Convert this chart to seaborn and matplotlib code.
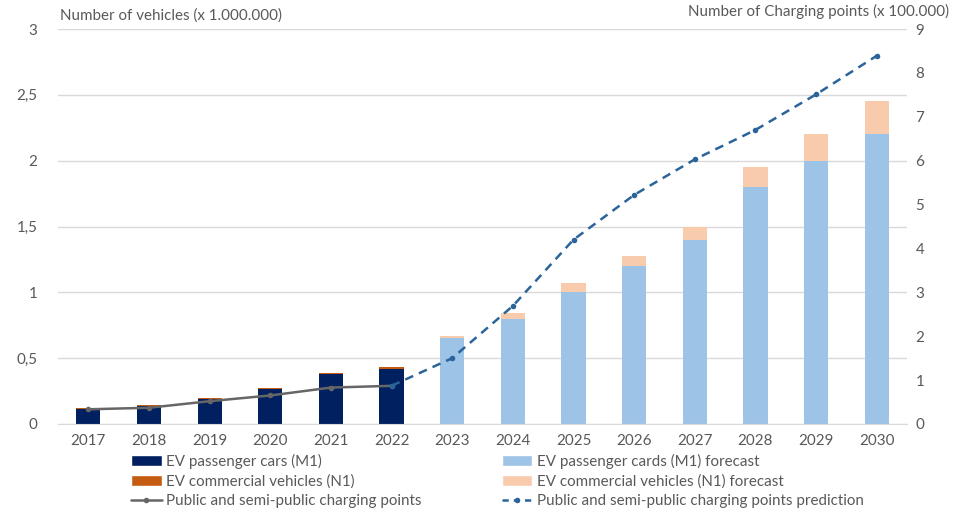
import numpy as np
import pandas as pd
import matplotlib
matplotlib.use("Agg")
import matplotlib.pyplot as plt
import seaborn as sns
from matplotlib.patches import Patch
from matplotlib.lines import Line2D
from matplotlib.ticker import FuncFormatter

# data
years = [str(y) for y in range(2017, 2031)]
m1_cars = [0.115, 0.14, 0.19, 0.265, 0.378, 0.415, 0.65, 0.8, 1.0, 1.2, 1.4, 1.8, 2.0, 2.2]
n1_commercial = [0.01, 0.007, 0.01, 0.01, 0.009, 0.015, 0.02, 0.04, 0.07, 0.075, 0.1, 0.15, 0.2, 0.25]
period = ["actual"] * 6 + ["forecast"] * 8

charging_years = years[:6]
charging_points = [0.335, 0.37, 0.52, 0.65, 0.83, 0.87]
prediction_years = years[5:]
charging_prediction = [0.87, 1.5, 2.69, 4.2, 5.22, 6.03, 6.7, 7.51, 8.39]

df = pd.DataFrame({"year": years, "m1": m1_cars, "n1": n1_commercial, "period": period})
df["total"] = df["m1"] + df["n1"]

navy = "#002060"
orange = "#C55A11"
lightblue = "#9DC3E6"
peach = "#F8CBAD"
gray = "#666666"
dashblue = "#2B6499"
textcol = "#595959"
fs = 10.9

sns.set_style("white")
plt.rcParams["font.family"] = ["Lato", "DejaVu Sans"]

fig = plt.figure(figsize=(9.67, 5.09), dpi=100)
ax = fig.add_axes([0.060, 0.167, 0.878, 0.776])

# stacked bars: total (N1 on top) first, then M1 over it
sns.barplot(data=df, x="year", y="total", hue="period", order=years,
            palette={"actual": orange, "forecast": peach}, dodge=False, saturation=1,
            width=0.4, linewidth=0, legend=False, ax=ax)
sns.barplot(data=df, x="year", y="m1", hue="period", order=years,
            palette={"actual": navy, "forecast": lightblue}, dodge=False, saturation=1,
            width=0.4, linewidth=0, legend=False, ax=ax)

ax.set_xlim(-0.5, len(years) - 0.5)
ax.set_ylim(0, 3)
ax.set_yticks(np.arange(0, 3.01, 0.5))
ax.yaxis.set_major_formatter(FuncFormatter(lambda v, p: f"{v:g}".replace(".", ",")))
ax.grid(axis="y", color="#D9D9D9", linewidth=1)
ax.set_axisbelow(True)
for s in ["top", "right", "left"]:
    ax.spines[s].set_visible(False)
ax.spines["bottom"].set_color("#D9D9D9")
ax.set_xlabel("")
ax.set_ylabel("")
ax.tick_params(axis="both", length=0, labelsize=fs, colors=textcol, pad=7)
ax.tick_params(axis="y", pad=15)

# charging points on secondary axis
ax2 = ax.twinx()
x_act = [years.index(y) for y in charging_years]
x_pred = [years.index(y) for y in prediction_years]
sns.lineplot(x=x_act, y=charging_points, ax=ax2, color=gray, linewidth=1.8,
             marker="o", markersize=4, markeredgewidth=0)
sns.lineplot(x=x_pred, y=charging_prediction, ax=ax2, color=dashblue, linewidth=1.8,
             linestyle=(0, (3.5, 2.5)), marker="o", markersize=4, markeredgewidth=0)
ax2.set_ylim(0, 9)
ax2.set_yticks(range(0, 10))
for s in ["top", "right", "left", "bottom"]:
    ax2.spines[s].set_visible(False)
ax2.tick_params(axis="y", length=0, labelsize=fs, colors=textcol, pad=6)
ax2.set_xlim(-0.5, len(years) - 0.5)

fig.text(0.062, 0.955, "Number of vehicles (x 1.000.000)", fontsize=fs, color=textcol,
         ha="left", va="bottom")
fig.text(0.981, 0.962, "Number of Charging points (x 100.000)", fontsize=fs, color=textcol,
         ha="right", va="bottom")

handles = [
    Patch(facecolor=navy, label="EV passenger cars (M1)"),
    Patch(facecolor=orange, label="EV commercial vehicles (N1)"),
    Line2D([0], [0], color=gray, lw=1.8, marker="o", markersize=3, label="Public and semi-public charging points"),
    Patch(facecolor=lightblue, label="EV passenger cards (M1) forecast"),
    Patch(facecolor=peach, label="EV commercial vehicles (N1) forecast"),
    Line2D([0], [0], color=dashblue, lw=1.8, linestyle=(0, (2.5, 2)), marker="o", markersize=3,
           label="Public and semi-public charging points prediction"),
]
leg = fig.legend(handles=handles, ncol=2, loc="upper left", bbox_to_anchor=(0.128, 0.123),
                 frameon=False, fontsize=fs, handlelength=2.0, handleheight=0.75,
                 handletextpad=0.3, columnspacing=5.3, labelspacing=0.35, borderpad=0)
for t in leg.get_texts():
    t.set_color(textcol)

fig.savefig("out.png", dpi=100)
